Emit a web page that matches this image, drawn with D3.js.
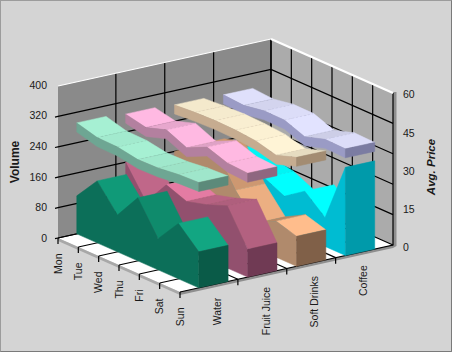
<!DOCTYPE html>
<html>
<head>
<meta charset="utf-8">
<script src="https://cdn.jsdelivr.net/npm/d3@7/dist/d3.min.js"></script>
<style>
  html, body { margin: 0; padding: 0; background: #d4d4d4; }
  svg { display: block; }
  text { font-family: "Liberation Sans", Arial, sans-serif; fill: #1a1a1a; }
</style>
</head>
<body>
<div id="chart"></div>
<script>
const categories = ["Water", "Fruit Juice", "Soft Drinks", "Coffee"];
const days = ["Mon", "Tue", "Wed", "Thu", "Fri", "Sat", "Sun"];
const volumeTicks = [0, 80, 160, 240, 320, 400];
const priceTicks = [0, 15, 30, 45, 60];

// volume areas, Mon..Sun
const waterVolume = [100, 163, 97, 166, 82, 146, 95];
const juiceVolume = [160, 80, 148, 128, 143, 164, 73];
const softVolume = [160, 200, 216, 129, 66, 95, 79];
const coffeeVolume = [130, 120, 110, 85, 122, 76, 232];

// avg price ribbons, Mon..Sun
const waterPrice = [43.8, 41.6, 41.4, 40, 40.2, 41.2, 41.6];
const juicePrice = [43, 41.3, 43.9, 40.4, 44.2, 41.5, 41];
const softPrice = [42.4, 43, 43.3, 43.1, 42.4, 40.3, 43];
const coffeePrice = [42.1, 41.5, 42.9, 42.8, 39.8, 42.3, 42.1];

const volumes = [waterVolume, juiceVolume, softVolume, coffeeVolume];
const prices = [waterPrice, juicePrice, softPrice, coffeePrice];

// top / side / end colours per category
const areaColors = [
  ["#12a984", "#0c6f59", "#0a5b48"],
  ["#e47ba3", "#92506e", "#703a54"],
  ["#ffbd8c", "#b08a6c", "#806048"],
  ["#00ffff", "#00bcd2", "#009aaa"]
];
const ribbonColors = [
  ["#a6f0d3", "#6ea693", "#5c8a7a"],
  ["#ffb9e2", "#b3809f", "#8f6780"],
  ["#fff4d6", "#c6ac90", "#a38c72"],
  ["#e2e3ff", "#9a9bc5", "#7b7ca2"]
];

const W = 452, H = 352;
const front = [180, 292];       // front corner of the floor
const catVec = [213, -47];      // floor edge along categories
const dayVec = [-122, -54];     // floor edge along days
const wallH = 152;
const ribbonThick = 9;

const xCat = d3.scaleBand().domain(categories).range([9 / 213, 204.5 / 213])
  .paddingInner(0.4).paddingOuter(0.2);
const zDay = d3.scalePoint().domain(days).range([1, 0]);
const hVol = d3.scaleLinear().domain([0, 400]).range([0, wallH]);
const hPrice = d3.scaleLinear().domain([0, 60]).range([0, wallH]);
const yLeft = d3.scaleLinear().domain([0, 400]).range([238, 85]);
const yRight = d3.scaleLinear().domain([0, 60]).range([247, 94.5]);

const project = (u, w, h = 0) => [
  front[0] + catVec[0] * u + dayVec[0] * w,
  front[1] + catVec[1] * u + dayVec[1] * w - h
];
const line = d3.line();
const poly = pts => line(pts) + "Z";

// facet brightness from how much the height changes between two days
function shadeArea(color, dh) {
  const t = dh / 30.4;
  let f = 1;
  if (t > -0.2) f = 1 - 0.5 * (t + 0.2);
  else if (t < -0.6) f = 1 - 0.4 * (-t - 0.6);
  const c = d3.rgb(color);
  return d3.rgb(c.r * f, c.g * f, c.b * f).formatHex();
}
function shadeRibbon(color, dh) {
  const t = dh / 30.4;
  const f = t > -0.1 ? 1 - 0.3 * (t + 0.1) : 1;
  const c = d3.rgb(color);
  return d3.rgb(c.r * f, c.g * f, c.b * f).formatHex();
}

const svg = d3.select("#chart").append("svg").attr("width", W).attr("height", H);

// frame
svg.append("rect").attr("width", W).attr("height", H).attr("fill", "#d4d4d4");
svg.append("rect").attr("x", 0.5).attr("y", 0.5).attr("width", W - 1).attr("height", H - 1)
  .attr("fill", "none").attr("stroke", "#9c9c9c");
svg.append("path").attr("d", `M${W - 0.5},0.5V${H - 0.5}H0.5`)
  .attr("fill", "none").attr("stroke", "#7a7a7a");

// walls and floor
const walls = svg.append("g");
walls.append("path")
  .attr("d", poly([project(0, 1, wallH), project(1, 1, wallH), project(1, 1), project(0, 1)]))
  .attr("fill", "#8a8a8a");
walls.append("path")
  .attr("d", poly([project(1, 1, wallH), project(1, 0, wallH), project(1, 0), project(1, 1)]))
  .attr("fill", "#ababab");
walls.append("path")
  .attr("d", poly([[393, 92], [396.5, 92], [396.5, 246], [393, 248]]))
  .attr("fill", "#8f8f8f");
walls.append("path")
  .attr("d", poly([project(0, 1), project(0, 0), project(1, 0), project(1, 1)]))
  .attr("fill", "#fff");
walls.append("path")
  .attr("d", poly([project(0, 1), project(0, 0), project(0, 0, -3), project(0, 1, -3)]))
  .attr("fill", "#a8a8a8");
walls.append("path")
  .attr("d", poly([project(0, 0), project(1, 0), project(1, 0, -3), project(0, 0, -3)]))
  .attr("fill", "#8e8e8e");

// grid
const catEdges = categories.slice(1).map(c => xCat(c) - xCat.step() * xCat.paddingInner() / 2);
const gridLines = [];
volumeTicks.slice(0, -1).forEach(v => {
  const h = hVol(v);
  const a = project(0, 1, h);
  gridLines.push([[a[0] - 3, a[1] + 0.7], a, project(1, 1, h), project(1, 0, h)]);
});
catEdges.forEach(u => {
  gridLines.push([project(u, 1, wallH), project(u, 1), project(u, 0)]);
  const p = project(u, 0);
  gridLines.push([[p[0], p[1]], [p[0], p[1] + 6]]);
});
days.forEach(d => {
  const w = zDay(d);
  gridLines.push([project(1, w, wallH), project(1, w), project(0, w)]);
  const p = project(0, w);
  gridLines.push([[p[0], p[1]], [p[0], p[1] + 6]]);
});
gridLines.push([project(1, 1, wallH), project(1, 1)]);
walls.selectAll("path.grid").data(gridLines).join("path")
  .attr("class", "grid")
  .attr("d", d => line(d))
  .attr("fill", "none")
  .attr("stroke", "#000")
  .attr("stroke-width", 1.2);

// white highlight along the top of the walls
walls.append("path")
  .attr("d", line([project(0, 1, wallH), project(1, 1, wallH)]))
  .attr("fill", "none").attr("stroke", "#fff").attr("stroke-width", 1.2);
walls.append("path")
  .attr("d", line([project(1, 1, wallH), project(1, 0, wallH)]))
  .attr("fill", "none").attr("stroke", "#fff").attr("stroke-width", 2.2);

// faces of one solid strip: top facets back to front, then the side as one piece, then the end
function stripFaces(heights, bottom, u0, u1, colors, shade) {
  const faces = [];
  const hidden = i => {
    const a = project(u0, zDay(days[i]), heights[i]);
    const b = project(u0, zDay(days[i + 1]), heights[i + 1]);
    const dx = b[0] - a[0], dy = b[1] - a[1];
    const ux = (u1 - u0) * catVec[0], uy = (u1 - u0) * catVec[1];
    return dx * uy - dy * ux >= 0;
  };
  for (let i = 0; i < days.length - 1; i++) {
    if (hidden(i)) continue;
    const wa = zDay(days[i]), wb = zDay(days[i + 1]);
    const ha = heights[i], hb = heights[i + 1];
    faces.push({
      d: poly([project(u0, wa, ha), project(u1, wa, ha), project(u1, wb, hb), project(u0, wb, hb)]),
      fill: shade(colors[0], hb - ha)
    });
    if (i > 0 && !hidden(i - 1)) {
      faces.push({ d: line([project(u0, wa, ha), project(u1, wa, ha)]), seam: colors[1] });
    }
  }
  const topEdge = days.map((d, i) => project(u0, zDay(d), heights[i]));
  const lowEdge = days.map((d, i) => project(u0, zDay(d), bottom(heights[i]))).reverse();
  faces.push({ d: poly(topEdge.concat(lowEdge)), fill: colors[1] });
  const wEnd = zDay(days[days.length - 1]);
  const hEnd = heights[heights.length - 1];
  faces.push({
    d: poly([project(u0, wEnd, hEnd), project(u1, wEnd, hEnd), project(u1, wEnd, bottom(hEnd)), project(u0, wEnd, bottom(hEnd))]),
    fill: colors[2]
  });
  return faces;
}

function drawFaces(faces) {
  svg.append("g").selectAll("path").data(faces).join("path")
    .attr("d", d => d.d)
    .attr("fill", d => d.seam ? "none" : d.fill)
    .attr("stroke", d => d.seam || d.fill)
    .attr("stroke-width", d => d.seam ? 0.5 : 0.5)
    .attr("stroke-opacity", d => d.seam ? 0.45 : 1)
    .attr("stroke-dasharray", d => d.seam ? "2,2" : null)
    .attr("stroke-linejoin", "round");
}

// coffee sits at the back, water at the front
d3.range(categories.length - 1, -1, -1).forEach(k => {
  const u0 = xCat(categories[k]);
  const u1 = u0 + xCat.bandwidth();
  const areaH = volumes[k].map(hVol);
  const ribbonH = prices[k].map(hPrice);
  drawFaces(stripFaces(areaH, () => 0, u0, u1, areaColors[k], shadeArea));
  drawFaces(stripFaces(ribbonH, h => h - ribbonThick, u0, u1, ribbonColors[k], shadeRibbon));
});

// value axes
const axisLeft = svg.append("g").attr("transform", "translate(57,0)")
  .call(d3.axisLeft(yLeft).tickValues(volumeTicks).tickSize(0).tickPadding(10));
const axisRight = svg.append("g").attr("transform", "translate(396,0)")
  .call(d3.axisRight(yRight).tickValues(priceTicks).tickSize(0).tickPadding(7));
[axisLeft, axisRight].forEach(a => {
  a.select(".domain").remove();
  a.selectAll("text").attr("font-size", 10.5).attr("font-family", '"Liberation Sans", Arial, sans-serif');
});

// rotated category labels under the floor edges
function rotatedLabels(data, pos) {
  svg.append("g").selectAll("text").data(data).join("text")
    .attr("transform", d => `translate(${pos(d)}) rotate(-90)`)
    .attr("text-anchor", "end")
    .attr("dy", "0.35em")
    .attr("font-size", 10.5)
    .text(d => d);
}
rotatedLabels(days, d => {
  const p = project(0, zDay(d));
  return [p[0], p[1] + 15.5];
});
rotatedLabels(categories, c => {
  const p = project(xCat(c) + xCat.bandwidth() / 2, 0);
  return [p[0] + 3.5, p[1] + 13];
});

// axis titles
svg.append("text").attr("transform", "translate(15,162) rotate(-90)")
  .attr("text-anchor", "middle").attr("dy", "0.35em")
  .attr("font-size", 12).attr("font-weight", "bold").text("Volume");
svg.append("text").attr("transform", "translate(431,167) rotate(-90)")
  .attr("text-anchor", "middle").attr("dy", "0.35em")
  .attr("font-size", 11.5).attr("font-weight", "bold").attr("font-style", "italic").text("Avg. Price");
</script>
</body>
</html>
